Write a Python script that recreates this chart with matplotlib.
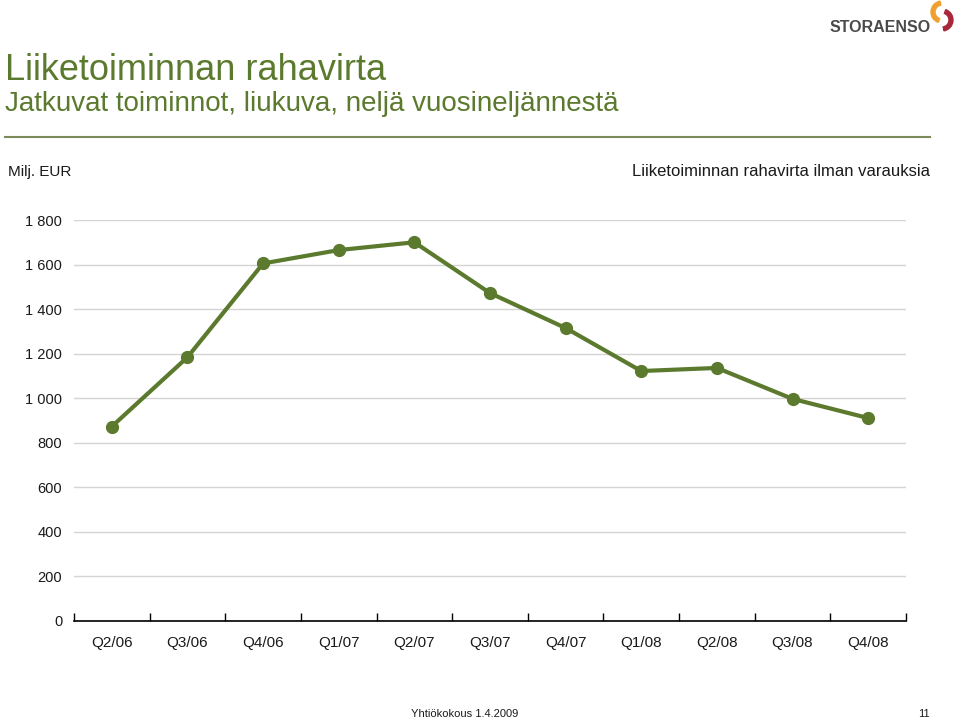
import matplotlib
matplotlib.use("Agg")
import matplotlib.pyplot as plt
from matplotlib.patches import Wedge

categories = ["Q2/06", "Q3/06", "Q4/06", "Q1/07", "Q2/07", "Q3/07", "Q4/07",
              "Q1/08", "Q2/08", "Q3/08", "Q4/08"]
values = [873, 1184, 1605, 1665, 1700, 1472, 1315, 1122, 1136, 997, 911]
yticks = [0, 200, 400, 600, 800, 1000, 1200, 1400, 1600, 1800]
ytick_labels = ["0", "200", "400", "600", "800", "1 000", "1 200", "1 400", "1 600", "1 800"]

plt.rcParams['font.family'] = ['Liberation Sans', 'DejaVu Sans']
green = "#5b7a2e"
textc = "#1a1a1a"

W, H = 959, 721
fig = plt.figure(figsize=(W / 100, H / 100), dpi=100)

ax = fig.add_axes([74 / W, (H - 621) / H, (906 - 74) / W, (621 - 220) / H])
x = list(range(len(categories)))
ax.plot(x, values, color=green, lw=3, marker="o", ms=8.5, zorder=3, clip_on=False)
ax.set_xlim(-0.5, len(categories) - 0.5)
ax.set_ylim(0, 1800)
ax.set_yticks(yticks)
ax.set_yticklabels(ytick_labels, fontsize=10.5, color=textc)
ax.yaxis.grid(True, color="#d4d4d4", lw=1)
ax.set_axisbelow(True)
ax.tick_params(axis="y", length=0, pad=8.5)
ax.set_xticks(x)
ax.set_xticklabels(categories, fontsize=11, color=textc)
ax.tick_params(axis="x", which="major", length=0, pad=11)
ax.set_xticks([i - 0.5 for i in range(len(categories) + 1)], minor=True)
ax.tick_params(axis="x", which="minor", direction="in", length=6, color="black", width=1)
for s in ["left", "right", "top"]:
    ax.spines[s].set_visible(False)
ax.spines["bottom"].set_color("black")
ax.spines["bottom"].set_linewidth(1.2)

# Titles
fig.text(5 / W, 1 - 70 / H, "Liiketoiminnan rahavirta", color=green, fontsize=26,
         va="center", ha="left")
fig.text(5 / W, 1 - 104 / H, "Jatkuvat toiminnot, liukuva, neljä vuosineljännestä",
         color=green, fontsize=20, va="center", ha="left")
fig.add_artist(plt.Line2D([5 / W, 930 / W], [1 - 137 / H, 1 - 137 / H],
                          color="#7d8a5a", lw=1.5))
fig.text(8 / W, 1 - 172 / H, "Milj. EUR", fontsize=11, va="center", ha="left",
         color=textc)
fig.text(930 / W, 1 - 172 / H, "Liiketoiminnan rahavirta ilman varauksia", fontsize=12,
         va="center", ha="right", color=textc)

# Footer
fig.text(465 / W, 1 - 714 / H, "Yhtiökokous 1.4.2009", fontsize=8, ha="center",
         va="center", color=textc)
fig.text(930 / W, 1 - 714 / H, "11", fontsize=8, ha="right", va="center", color=textc)

# Logo
fig.text(830 / W, 1 - 27 / H, "STORAENSO", fontsize=11.5, fontweight="bold",
         color="#4a4a4a", ha="left", va="center")
lax = fig.add_axes([918 / W, 1 - 36 / H, 40 / W, 36 / H])
lax.set_xlim(0, 40)
lax.set_ylim(0, 36)
lax.set_aspect("equal")
lax.axis("off")
lax.add_patch(Wedge((24, 24), 11, 100, 250, width=4, color="#f0a030"))
lax.add_patch(Wedge((24, 16), 11, -80, 70, width=4, color="#a8283a"))

fig.savefig("out.png", dpi=100)
